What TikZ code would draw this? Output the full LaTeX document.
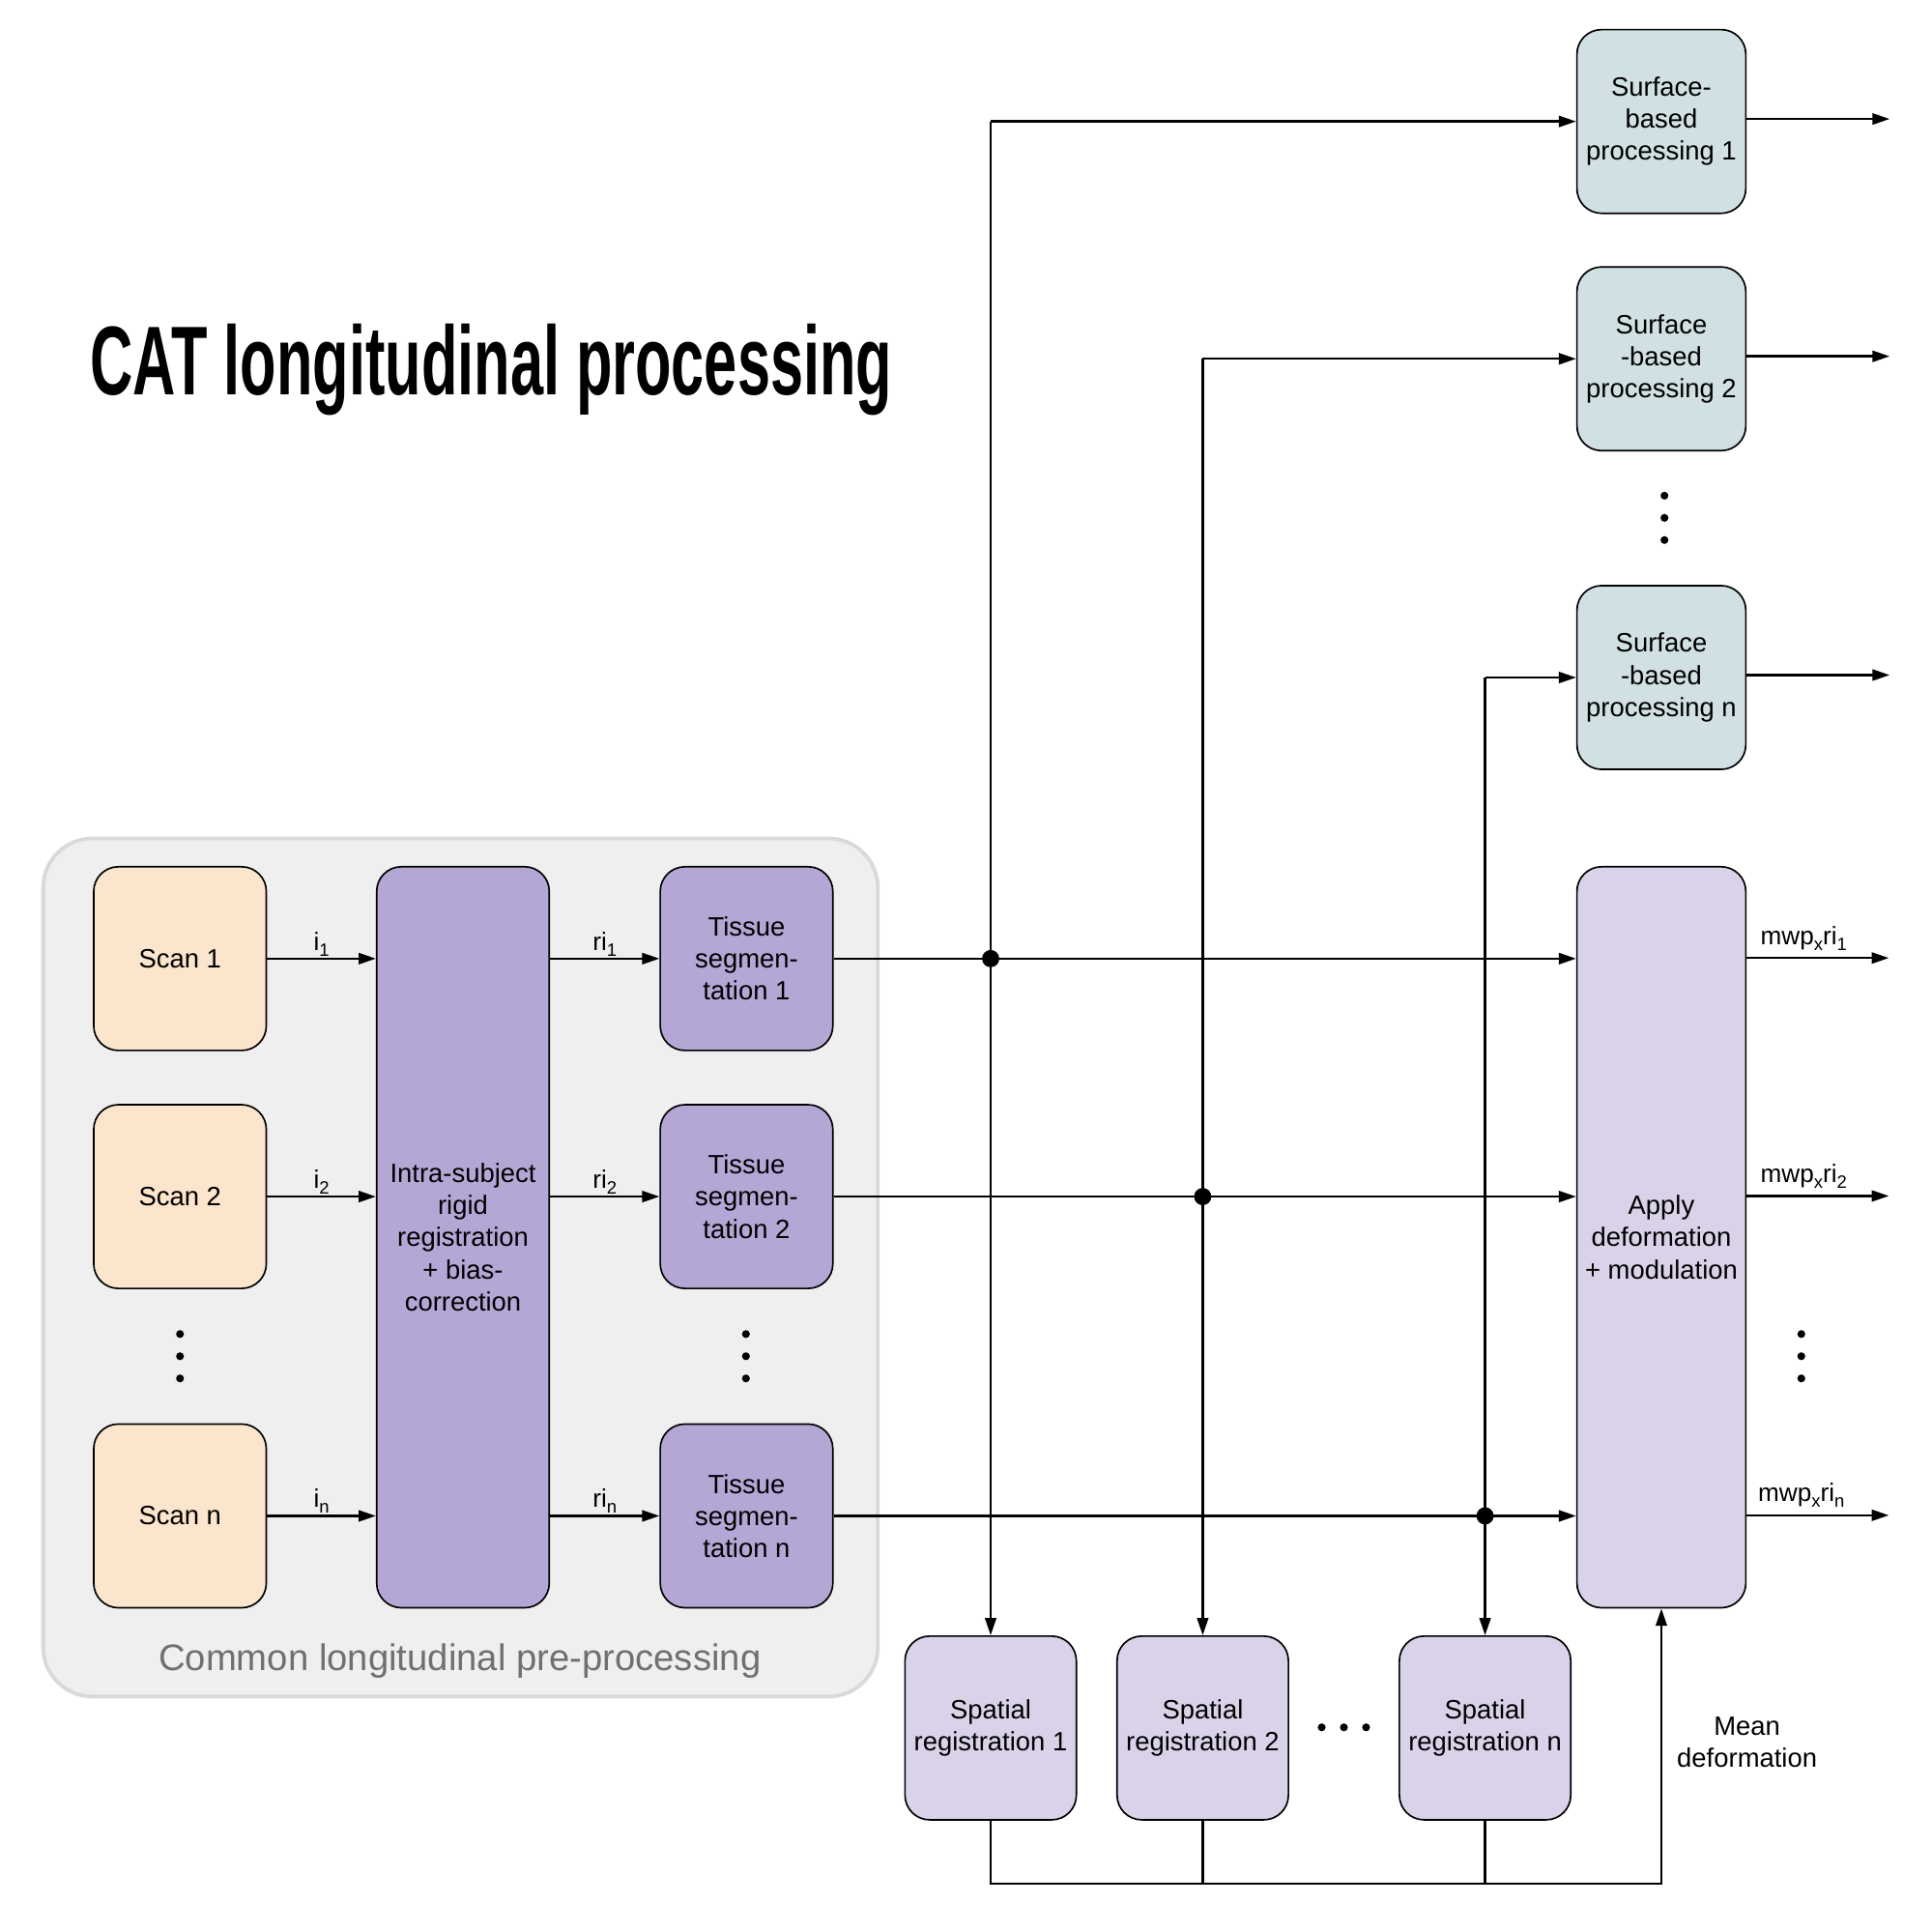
\documentclass[tikz,border=0pt]{standalone}
\usepackage{fontspec}
\setmainfont{Liberation Sans}
\newfontfamily\titlefont{Liberation Sans}
\usetikzlibrary{arrows.meta,calc}
\definecolor{scanc}{HTML}{FCE5CD}
\definecolor{purpc}{HTML}{B4A7D6}
\definecolor{lpurpc}{HTML}{D9D2E9}
\definecolor{surfc}{HTML}{D0E0E3}
\definecolor{bgc}{HTML}{EFEFEF}
\definecolor{bgborder}{HTML}{D9D9D9}
\definecolor{graytext}{HTML}{707070}
\newcommand{\lsub}[1]{\raisebox{-0.45ex}{\fontsize{14.5}{14.5}\selectfont #1}}
\begin{document}
\begin{tikzpicture}[x=1pt,y=-1pt,
  box/.style={draw=black, line width=1.3pt, rounded corners=20pt, minimum width=140pt,
    minimum height=149pt, align=center, inner sep=0pt, font=\fontsize{21.5}{26}\selectfont},
  tallbox/.style={box, minimum height=601pt},
  arr/.style={line width=1.9pt, -{Triangle[length=14pt,width=9pt]}},
  conn/.style={line width=1.9pt},
  lbl/.style={font=\fontsize{20.5}{24}\selectfont, inner sep=1pt, anchor=south},
  junction/.style={fill=black},
  smalldot/.style={fill=black}
]
\useasboundingbox (0,0) rectangle (1567,1567);
\fill[white] (0,0) rectangle (1567,1567);

% title
\node[anchor=base west, inner sep=0pt] (title) at (73,320)
  {\scalebox{0.624}[1.03]{\titlefont\bfseries\fontsize{77}{80}\selectfont CAT longitudinal processing}};

% common pre-processing background
\draw[fill=bgc, draw=bgborder, line width=3pt, rounded corners=40pt] (35,680) rectangle (712,1376);
\node[font=\fontsize{30}{34}\selectfont, text=graytext] (common) at (373,1347) {Common longitudinal pre-processing};

% scans
\node[box, fill=scanc] (s1) at (146,777.5) {Scan 1};
\node[box, fill=scanc] (s2) at (146,970.5) {Scan 2};
\node[box, fill=scanc] (sn) at (146,1229.5) {Scan n};

% intra-subject
\node[tallbox, fill=purpc] (intra) at (375.5,1003.5) {Intra-subject\\rigid\\registration\\+ bias-\\correction};

% tissue segmentation
\node[box, fill=purpc] (t1) at (605.5,777.5) {Tissue\\segmen-\\tation 1};
\node[box, fill=purpc] (t2) at (605.5,970.5) {Tissue\\segmen-\\tation 2};
\node[box, fill=purpc] (tn) at (605.5,1229.5) {Tissue\\segmen-\\tation n};

% surface processing
\node[box, fill=surfc, minimum width=137pt] (f1) at (1347.5,98.5) {Surface-\\based\\processing 1};
\node[box, fill=surfc, minimum width=137pt] (f2) at (1347.5,291) {Surface\\-based\\processing 2};
\node[box, fill=surfc, minimum width=137pt] (fn) at (1347.5,549.5) {Surface\\-based\\processing n};

% apply deformation
\node[tallbox, fill=lpurpc, minimum width=137pt] (apply) at (1347.5,1003.5) {Apply\\deformation\\+ modulation};

% spatial registration
\node[box, fill=lpurpc, minimum width=139pt] (r1) at (803.5,1401.5) {Spatial\\registration 1};
\node[box, fill=lpurpc, minimum width=139pt] (r2) at (975.5,1401.5) {Spatial\\registration 2};
\node[box, fill=lpurpc, minimum width=139pt] (rn) at (1204.5,1401.5) {Spatial\\registration n};

% scan -> intra
\draw[arr] (s1.east) -- (s1.east -| intra.west) node[lbl, midway] {i\lsub{1}};
\draw[arr] (s2.east) -- (s2.east -| intra.west) node[lbl, midway] {i\lsub{2}};
\draw[arr] (sn.east) -- (sn.east -| intra.west) node[lbl, midway] {i\lsub{n}};

% intra -> tissue
\draw[arr] (t1.west -| intra.east) -- (t1.west) node[lbl, midway] {ri\lsub{1}};
\draw[arr] (t2.west -| intra.east) -- (t2.west) node[lbl, midway] {ri\lsub{2}};
\draw[arr] (tn.west -| intra.east) -- (tn.west) node[lbl, midway] {ri\lsub{n}};

% tissue -> apply
\draw[arr] (t1.east) -- (t1.east -| apply.west);
\draw[arr] (t2.east) -- (t2.east -| apply.west);
\draw[arr] (tn.east) -- (tn.east -| apply.west);

% vertical branches
\coordinate (c1) at (r1.north |- f1.west);
\coordinate (c2) at (r2.north |- f2.west);
\coordinate (cn) at (rn.north |- fn.west);
\draw[arr] (c1) -- (f1.west);
\draw[arr] (c2) -- (f2.west);
\draw[arr] (cn) -- (fn.west);
\draw[arr] (c1) -- (r1.north);
\draw[arr] (c2) -- (r2.north);
\draw[arr] (cn) -- (rn.north);

% junctions
\coordinate (j1) at (r1.north |- t1.east);
\coordinate (j2) at (r2.north |- t2.east);
\coordinate (jn) at (rn.north |- tn.east);
\fill[junction] (j1) circle (7pt);
\fill[junction] (j2) circle (7pt);
\fill[junction] (jn) circle (7pt);

% surface outputs
\coordinate (fo1) at ($(f1.east)+(116,-2)$);
\coordinate (fo2) at ($(f2.east)+(116,-2)$);
\coordinate (fon) at ($(fn.east)+(116,-2)$);
\draw[arr] (f1.east) ++(0,-2) -- (fo1);
\draw[arr] (f2.east) ++(0,-2) -- (fo2);
\draw[arr] (fn.east) ++(0,-2) -- (fon);

% apply outputs
\coordinate (ao1) at (1532,777);
\coordinate (ao2) at (1532,970);
\coordinate (aon) at (1532,1229);
\draw[arr] (ao1 -| apply.east) -- (ao1);
\draw[arr] (ao2 -| apply.east) -- (ao2);
\draw[arr] (aon -| apply.east) -- (aon);
\node[lbl] (m1) at (1463,772) {mwp\lsub{x}ri\lsub{1}};
\node[lbl] (m2) at (1463,965) {mwp\lsub{x}ri\lsub{2}};
\node[lbl] (mn) at (1461,1224) {mwp\lsub{x}ri\lsub{n}};

% mean deformation feedback
\coordinate (b1) at ($(r1.south)+(0,51)$);
\draw[arr] (r1.south) -- (b1) -| (apply.south);
\draw[conn] (r2.south) -- (r2.south |- b1);
\draw[conn] (rn.south) -- (rn.south |- b1);
\node[font=\fontsize{21.5}{26}\selectfont, align=center] (mean) at (1417,1413) {Mean\\deformation};

% ellipsis dots
\foreach \yy in {1082,1100,1118} {
  \fill[smalldot] (146,\yy) circle (3.2pt);
  \fill[smalldot] (605,\yy) circle (3.2pt);
  \fill[smalldot] (1461,\yy) circle (3.2pt);
}
\foreach \yy in {402,420,438} { \fill[smalldot] (1350,\yy) circle (3.2pt); }
\foreach \xx in {1072,1090,1108} { \fill[smalldot] (\xx,1401) circle (3.2pt); }
\end{tikzpicture}
\end{document}
